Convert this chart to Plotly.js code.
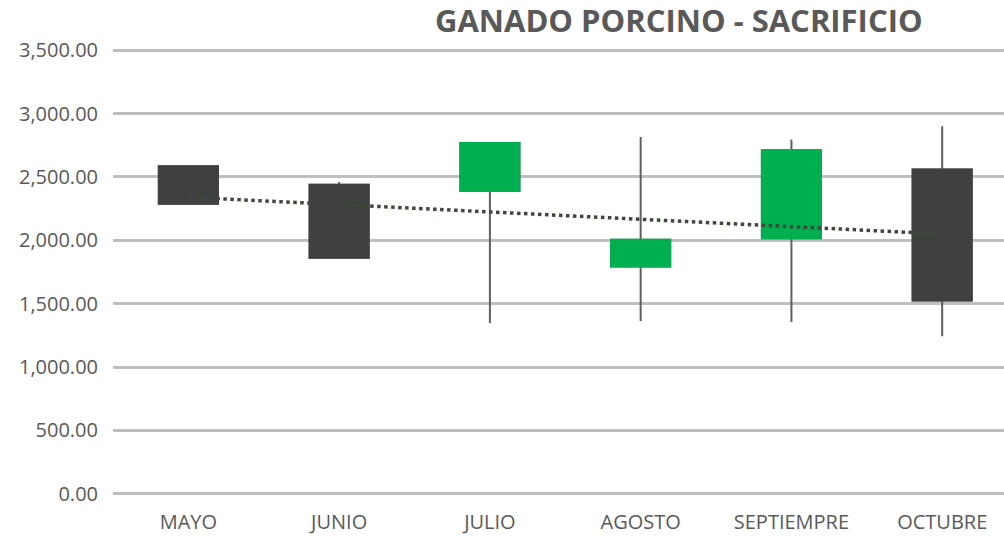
<!DOCTYPE html>
<html>
<head>
<meta charset="utf-8">
<script src="https://cdn.plot.ly/plotly-3.0.1.min.js"></script>
<style>html,body{margin:0;padding:0;background:#fff;}#chart{width:1004px;height:536px;}</style>
</head>
<body>
<div id="chart"></div>
<script>
const months = ["MAYO", "JUNIO", "JULIO", "AGOSTO", "SEPTIEMPRE", "OCTUBRE"];
const openVals  = [2584, 2439, 2389, 1794, 2016, 2558];
const highVals  = [2584, 2460, 2768, 2815, 2795, 2900];
const lowVals   = [2289, 1863, 1347, 1363, 1355, 1242];
const closeVals = [2289, 1863, 2768, 2005, 2710, 1526];
const trendX = ["MAYO", "OCTUBRE"];
const trendY = [2340, 2050];
const yTicks = [0, 500, 1000, 1500, 2000, 2500, 3000, 3500];

const fontFam = '"Open Sans", sans-serif';
const bodyHigh = openVals.map((o, i) => Math.max(o, closeVals[i]));
const bodyLow = openVals.map((o, i) => Math.min(o, closeVals[i]));

const traces = [
  {
    type: 'candlestick', x: months, open: openVals, high: highVals, low: lowVals, close: closeVals,
    increasing: {line: {color: '#5f5f5f', width: 2}, fillcolor: '#5f5f5f'},
    decreasing: {line: {color: '#5f5f5f', width: 2}, fillcolor: '#5f5f5f'},
    whiskerwidth: 0, showlegend: false, hoverinfo: 'skip'
  },
  {
    type: 'candlestick', x: months, open: openVals, high: bodyHigh, low: bodyLow, close: closeVals,
    increasing: {line: {color: '#00B050', width: 2}, fillcolor: '#00B050'},
    decreasing: {line: {color: '#404040', width: 2}, fillcolor: '#404040'},
    whiskerwidth: 0, showlegend: false
  },
  {
    type: 'scatter', mode: 'lines', x: trendX, y: trendY,
    line: {color: '#3b4a36', width: 3.5, dash: 'dot'}, showlegend: false, hoverinfo: 'skip'
  }
];

const layout = {
  width: 1004, height: 536,
  margin: {l: 113, r: 0, t: 49, b: 41},
  paper_bgcolor: '#ffffff', plot_bgcolor: '#ffffff',
  showlegend: false,
  boxmode: 'overlay', boxgap: 0.44,
  title: {
    text: '<b>GANADO PORCINO - SACRIFICIO</b>',
    font: {family: fontFam, size: 31, color: '#595959'},
    x: 0.635, xref: 'paper', xanchor: 'center', y: 0.96, yref: 'container', yanchor: 'middle'
  },
  xaxis: {
    type: 'category', range: [-0.5, 5.41],
    rangeslider: {visible: false},
    showgrid: false, zeroline: false, showline: false, ticks: '',
    tickfont: {family: fontFam, size: 20, color: '#595959'},
    ticklabelstandoff: 13, fixedrange: true
  },
  yaxis: {
    range: [-10, 3510], tickvals: yTicks, tickformat: ',.2f',
    showgrid: true, gridcolor: '#bfbfbf', gridwidth: 3,
    zeroline: false, showline: false, ticks: '',
    tickfont: {family: fontFam, size: 20, color: '#595959'},
    ticklabelstandoff: 14, fixedrange: true
  }
};

Plotly.newPlot('chart', traces, layout, {displayModeBar: false, staticPlot: true});
</script>
</body>
</html>
